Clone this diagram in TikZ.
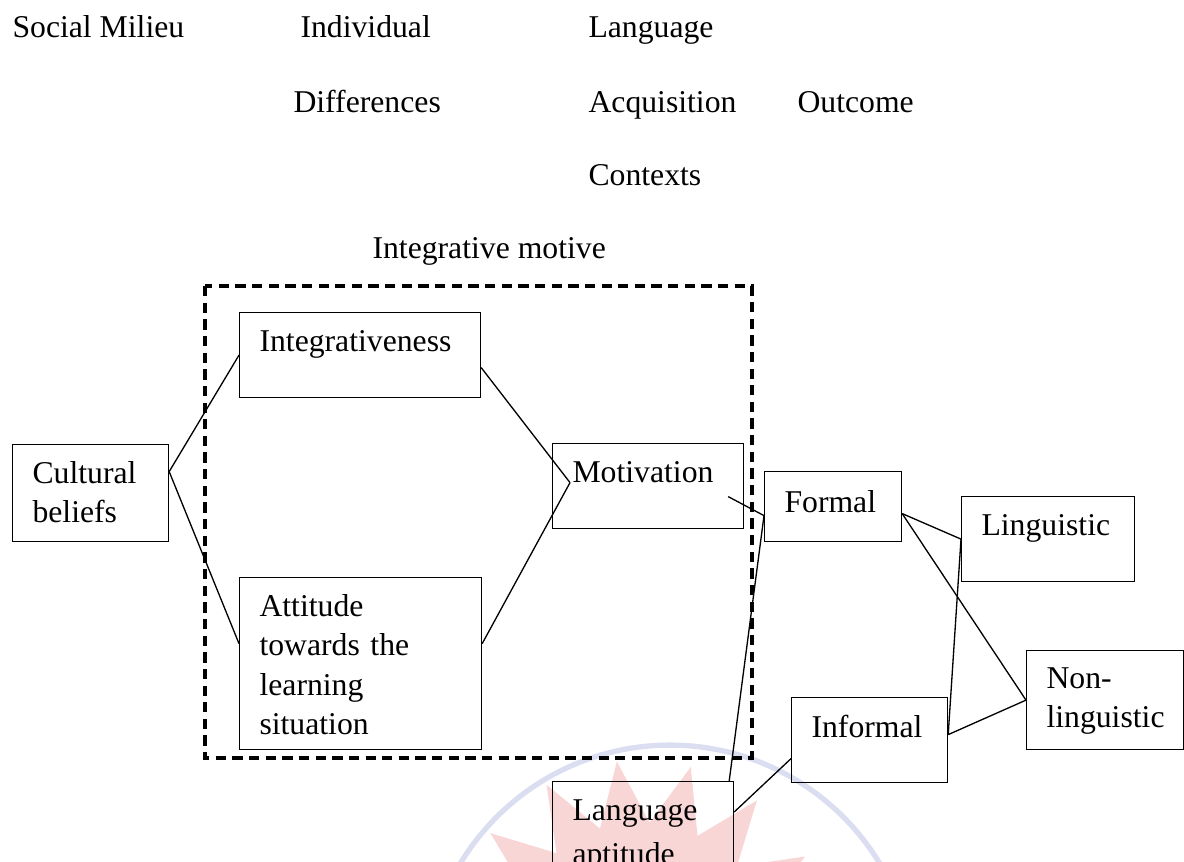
\documentclass[tikz,border=0pt]{standalone}
\usepackage{fontspec}
\setmainfont{Liberation Serif}
\newlength\px
\setlength\px{0.3785pt}
\definecolor{sellorojo}{RGB}{249,214,214}
\definecolor{selloazul}{RGB}{218,222,240}

\begin{document}
\begin{tikzpicture}[x=0.3785pt, y=-0.3785pt,
	caja/.style={draw, line width=0.45pt, inner sep=0pt, anchor=north west},
	texto/.style={font=\fontsize{12pt}{14.95pt}\selectfont, inner sep=0pt, anchor=base west, align=left},
	linea/.style={line width=0.5pt},
	marco/.style={line width=1.8pt, dash pattern=on 3.9pt off 2.4pt}]
	\useasboundingbox (0,0) rectangle (1184,861);
	\clip (0,0) rectangle (1184,861);
	% Watermark
		\fill[sellorojo, shift={(640,950)}] (97:71.9pt) \foreach \k in {0,...,15} { -- ({108.25+22.5*\k}:48.4pt) -- ({119.5+22.5*\k}:71.9pt)} -- cycle;
		\draw[selloazul, line width=2pt] (670,990) circle[radius=92.7pt];

	% Headings
		\node[texto] (milieu) at (12,37) {Social Milieu};
		\node[texto] (indiv) at (300,37) {Individual};
		\node[texto] (lang) at (588,37) {Language};
		\node[texto] (diff) at (293,112) {Differences};
		\node[texto] (acq) at (588,112) {Acquisition};
		\node[texto] (outcome) at (797,112) {Outcome};
		\node[texto] (ctx) at (588,185) {Contexts};
		\node[texto] (motive) at (372,258) {Integrative motive};

	% Integrative motive frame
		\draw[marco] (205,286) rectangle (752,758);

	% Boxes
		\node[caja, minimum width=156\px, minimum height=97\px] (cult) at (12,444) {};
		\node[caja, minimum width=241\px, minimum height=85\px] (integ) at (239,312) {};
		\node[caja, minimum width=242\px, minimum height=172\px] (att) at (239,577) {};
		\node[caja, minimum width=191\px, minimum height=85\px] (motiv) at (552,443) {};
		\node[caja, minimum width=137\px, minimum height=70\px] (formal) at (764,471) {};
		\node[caja, minimum width=173\px, minimum height=85\px] (ling) at (961,496) {};
		\node[caja, minimum width=157\px, minimum height=99\px] (nonling) at (1026,650) {};
		\node[caja, minimum width=156\px, minimum height=85\px] (informal) at (791,697) {};
		\node[caja, minimum width=181\px, minimum height=110\px] (apt) at (552,781) {};

	% Box texts
		\node[texto, text width=130\px] (culttxt) at ([xshift=20\px,yshift=-39\px]cult.north west) {Cultural\\beliefs};
		\node[texto] (integtxt) at ([xshift=20\px,yshift=-39\px]integ.north west) {Integrativeness};
		\node[texto, text width=215\px] (atttxt) at ([xshift=20\px,yshift=-39\px]att.north west) {Attitude\\towards the\\learning\\situation};
		\node[texto] (motivtxt) at ([xshift=20\px,yshift=-39\px]motiv.north west) {Motivation};
		\node[texto] (formaltxt) at ([xshift=20\px,yshift=-41\px]formal.north west) {Formal};
		\node[texto] (lingtxt) at ([xshift=20\px,yshift=-39\px]ling.north west) {Linguistic};
		\node[texto, text width=130\px] (nonlingtxt) at ([xshift=20\px,yshift=-38\px]nonling.north west) {Non-\\linguistic};
		\node[texto] (informaltxt) at ([xshift=20\px,yshift=-40\px]informal.north west) {Informal};
		\node[texto, text width=150\px] (apttxt) at ([xshift=20\px,yshift=-39\px]apt.north west) {Language\\[2pt]aptitude};

	% Connectors
		\coordinate (cultout) at ([yshift=21.5\px]cult.east);
		\coordinate (motivin) at ([xshift=18\px,yshift=3.5\px]motiv.west);
		\coordinate (formalin) at ([yshift=-9\px]formal.west);
		\coordinate (formalout) at ([yshift=-7\px]formal.east);
		\coordinate (informalout) at ([yshift=5.5\px]informal.east);
		\draw[linea] (cultout) -- (integ.west);
		\draw[linea] (cultout) -- ([yshift=20\px]att.west);
		\draw[linea] ([yshift=-12.5\px]integ.east) -- (motivin);
		\draw[linea] ([yshift=20\px]att.east) -- (motivin);
		\draw[linea] ([xshift=-16\px,yshift=-10.5\px]motiv.east) -- (formalin);
		\draw[linea] (formalin) -- ([xshift=-5\px]apt.north east);
		\draw[linea] ([yshift=-31\px]apt.north east) -- ([yshift=-18.5\px]informal.west);
		\draw[linea] (formalout) -- (ling.west);
		\draw[linea] (formalout) -- (nonling.west);
		\draw[linea] (informalout) -- (ling.west);
		\draw[linea] (informalout) -- (nonling.west);
\end{tikzpicture}
\end{document}
